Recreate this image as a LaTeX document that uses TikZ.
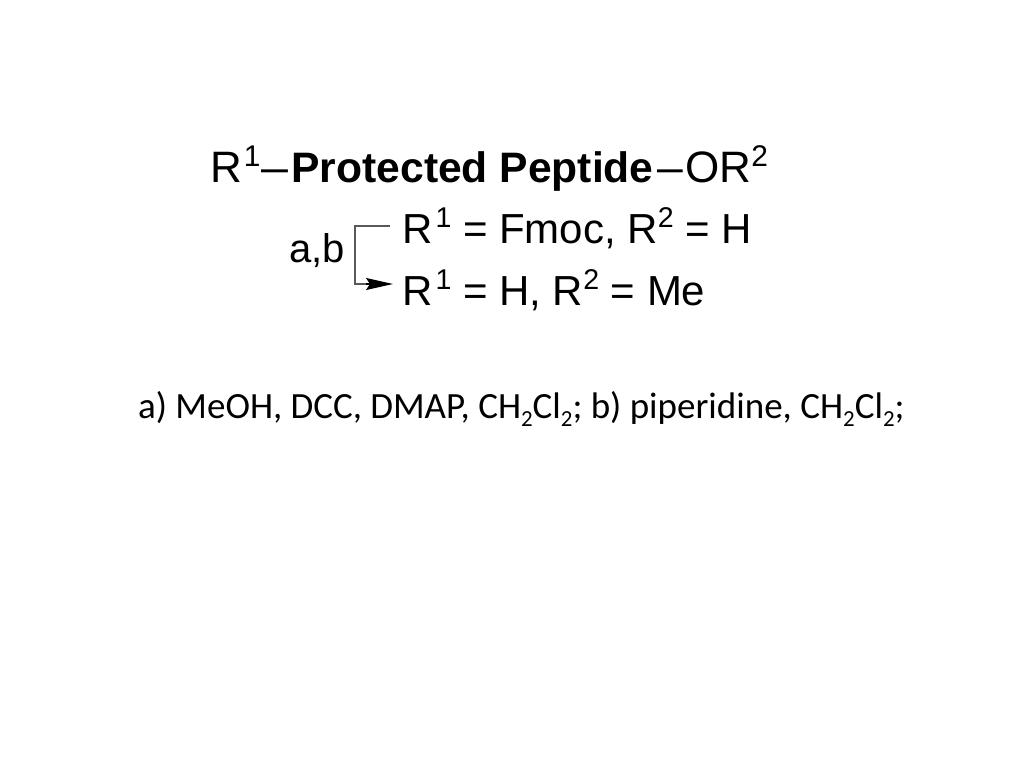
\documentclass[tikz,border=0pt]{standalone}
\usepackage{fontspec}
\setmainfont{Liberation Sans}
\newfontfamily\calib{Carlito}
\usetikzlibrary{arrows.meta}
\newcommand\supx[1]{\raisebox{0.36em}{\scalebox{0.68}{#1}}}
\newcommand\subx[1]{\raisebox{-0.24em}{\scalebox{0.62}{#1}}}
\begin{document}
\begin{tikzpicture}[x=1pt,y=-1pt,
  txt/.style={anchor=base west,inner sep=0pt,font=\fontsize{44}{52}\selectfont},
  cond/.style={anchor=base west,inner sep=0pt,font=\calib\fontsize{37}{44}\selectfont},
  bracket/.style={line width=2.2pt,draw=black!65}]
\useasboundingbox (0,0) rectangle (1024,768);
\fill[white] (0,0) rectangle (1024,768);
\node[txt] (top) at (210,182) {R\kern2pt\supx{1}\kern1pt\scalebox{1.1}[1]{–}\kern3pt{\fontsize{42.6}{50}\selectfont\textbf{Protected Peptide}}\kern4pt\scalebox{1.05}[1]{–}\kern2pt OR\kern0pt\supx{2}};
\node[txt,font=\fontsize{42}{50}\selectfont] (l2) at (402,243) {R\kern3pt\supx{1} = Fmoc, R\supx{2} = H};
\node[txt,font=\fontsize{42}{50}\selectfont] (l3) at (402,305) {R\kern3pt\supx{1} = H, R\supx{2} = Me};
\node[txt,font=\fontsize{40}{48}\selectfont] (ab) at (289,262) {a,b};
\coordinate (s) at (390,226);
\coordinate (c1) at (355,226);
\coordinate (c2) at (355,284);
\coordinate (m) at (366,284);
\coordinate (e) at (393,284);
\draw[bracket] (s) -- (c1) -- (c2) -- (m);
\draw[black,line width=1.5pt,-{Stealth[length=27pt,width=12pt,inset=4pt]}] (m) -- (e);
\node[cond] (cond) at (138,418) {a) MeOH, DCC, DMAP, CH\subx{2}Cl\subx{2}; b) piperidine, CH\subx{2}Cl\subx{2};};
\end{tikzpicture}
\end{document}
